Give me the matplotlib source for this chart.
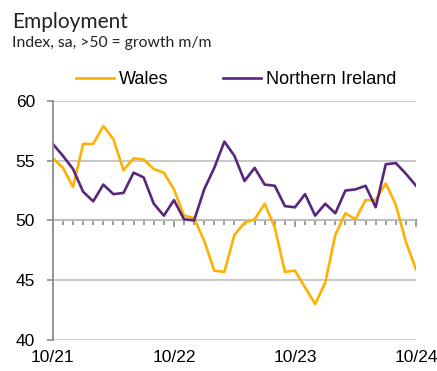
import matplotlib
matplotlib.use("Agg")
import matplotlib.pyplot as plt
from matplotlib.ticker import MultipleLocator

# monthly index values, 10/21 .. 10/24
wales = [55.2, 54.4, 52.8, 56.4, 56.4, 57.9, 56.8, 54.2, 55.2, 55.1,
         54.3, 54.0, 52.6, 50.4, 50.2, 48.3, 45.8, 45.7, 48.8, 49.8,
         50.1, 51.4, 49.4, 45.7, 45.8, 44.4, 43.0, 44.8, 48.8, 50.6,
         50.1, 51.7, 51.7, 53.1, 51.3, 48.2, 45.9]
northern_ireland = [56.4, 55.4, 54.3, 52.4, 51.6, 53.0, 52.2, 52.3, 54.0, 53.6,
                    51.4, 50.4, 51.7, 50.1, 50.0, 52.6, 54.4, 56.6, 55.4, 53.3,
                    54.4, 53.0, 52.9, 51.2, 51.1, 52.2, 50.4, 51.4, 50.6, 52.5,
                    52.6, 52.9, 51.1, 54.7, 54.8, 53.9, 52.9]
tick_labels = ['10/21', '10/22', '10/23', '10/24']

months = list(range(len(wales)))

plt.rcParams['font.family'] = ['Liberation Sans', 'DejaVu Sans']

fig = plt.figure(figsize=(4.37, 3.71), dpi=100)
ax = fig.add_axes([0.121, 0.0836, 0.831, 0.6444])

ax.plot(months, wales, color='#FDB100', lw=1.9, label='Wales')
ax.plot(months, northern_ireland, color='#58267E', lw=1.9, label='Northern Ireland')

ax.set_xlim(0, 36)
ax.set_ylim(40, 60)
ax.set_yticks([40, 45, 50, 55, 60])
ax.grid(axis='y', color='#c4c4c4', lw=1.3)
ax.set_axisbelow(True)

for s in ['top', 'right']:
    ax.spines[s].set_visible(False)
ax.spines['left'].set_color('#8c8c8c')
ax.spines['left'].set_linewidth(1.3)
ax.spines['bottom'].set_position(('data', 50))
ax.spines['bottom'].set_color('#8c8c8c')
ax.spines['bottom'].set_linewidth(1.5)
ax.spines['bottom'].set_zorder(0.5)

ax.xaxis.set_major_locator(MultipleLocator(12))
ax.xaxis.set_minor_locator(MultipleLocator(1))
ax.tick_params(axis='x', which='major', length=5, width=1.2, color='#8c8c8c', labelbottom=False)
ax.tick_params(axis='x', which='minor', length=3.5, width=1.2, color='#8c8c8c')
ax.tick_params(axis='y', length=4.3, width=1.2, color='#8c8c8c', labelsize=12.5, pad=8.5)

sec = ax.secondary_xaxis('bottom')
sec.set_xticks([0, 12, 24, 36], tick_labels)
sec.tick_params(length=0, labelsize=12.5, pad=7)
sec.spines['bottom'].set_visible(False)

fig.legend(loc='center', bbox_to_anchor=(0.54, 0.785), ncol=2, frameon=False,
           fontsize=13, handlelength=2.1, handletextpad=0.3, columnspacing=3.0)

fig.text(0.027, 0.925, 'Employment', fontsize=15, family=['Lato', 'DejaVu Sans'], color='#222222')
fig.text(0.027, 0.872, 'Index, sa, >50 = growth m/m', fontsize=11.3, family=['Lato', 'DejaVu Sans'], color='#222222')

fig.savefig('out.png', dpi=100)
